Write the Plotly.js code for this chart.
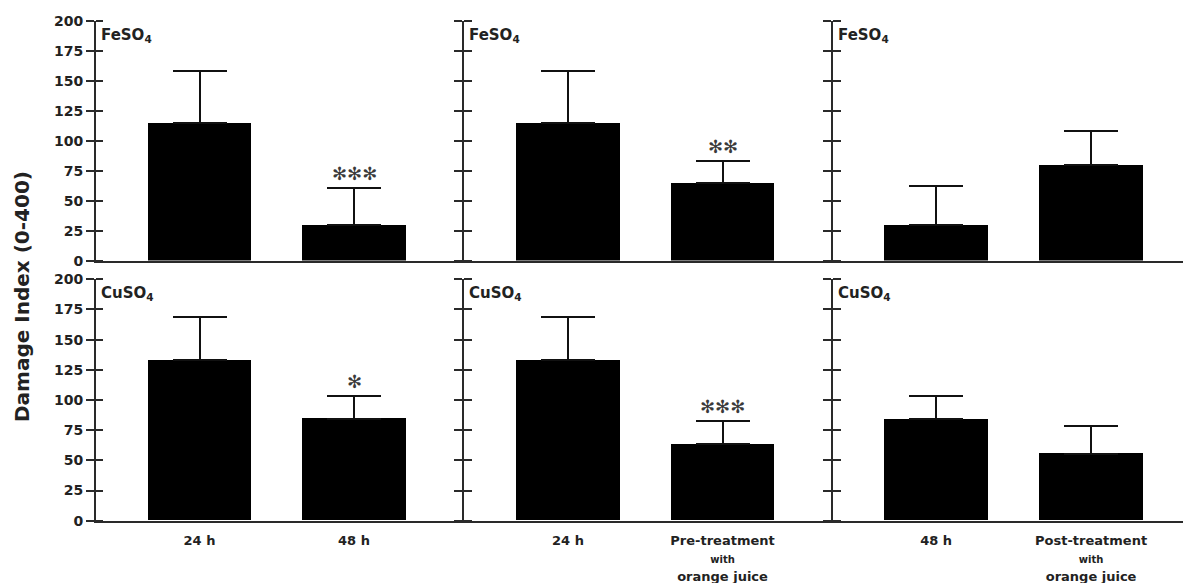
<!DOCTYPE html>
<html>
<head>
<meta charset="utf-8">
<script src="https://cdn.plot.ly/plotly-3.0.1.min.js"></script>
<style>html,body{margin:0;padding:0;background:#fff;}#chart{width:1183px;height:583px;}</style>
</head>
<body>
<div id="chart"></div>
<script>
// ---- data ----
const catsA = ['24 h', '48 h'];
const catsB = ['24 h', 'Pre-treatment'];
const catsC = ['48 h', 'Post-treatment'];
const tickLabelsA = ['<span style="font-size:13px">24 h</span>', '<span style="font-size:13px">48 h</span>'];
const tickLabelsB = ['<span style="font-size:13px">24 h</span>',
  '<span style="font-size:13px">Pre-treatment</span><br><span style="font-size:10px">with</span><br><span style="font-size:13px">orange juice</span>'];
const tickLabelsC = ['<span style="font-size:13px">48 h</span>',
  '<span style="font-size:13px">Post-treatment</span><br><span style="font-size:10px">with</span><br><span style="font-size:13px">orange juice</span>'];

const feMeansA = [115, 30];
const feErrA = [43, 31];
const feSigA = ['', '✻✻✻'];
const feMeansB = [115, 65];
const feErrB = [43, 18];
const feSigB = ['', '✻✻'];
const feMeansC = [30, 80];
const feErrC = [32, 28];
const feSigC = ['', ''];

const cuMeansA = [133, 84.5];
const cuErrA = [36, 19];
const cuSigA = ['', '✻'];
const cuMeansB = [133, 63.5];
const cuErrB = [36, 19.5];
const cuSigB = ['', '✻✻✻'];
const cuMeansC = [84, 55.5];
const cuErrC = [19, 23];
const cuSigC = ['', ''];

const yTickVals = [0, 25, 50, 75, 100, 125, 150, 175, 200];
const panelLabels = ['FeSO<sub>4</sub>', 'CuSO<sub>4</sub>'];
const yTitle = 'Damage Index (0-400)';

// ---- build ----
const W = 1183, H = 583;
const xDomains = [[96 / W, 462 / W], [464 / W, 831 / W], [833 / W, 1]];
const xRanges = [[-0.67, 1.699], [-0.673, 1.702], [-0.665, 1.593]];
const yDomains = [[(H - 260.6) / H, (H - 21) / H], [(H - 520.7) / H, (H - 279.3) / H]];

const panels = [
  {cats: catsA, m: feMeansA, e: feErrA, s: feSigA, row: 0, col: 0, ticks: tickLabelsA},
  {cats: catsB, m: feMeansB, e: feErrB, s: feSigB, row: 0, col: 1, ticks: tickLabelsB},
  {cats: catsC, m: feMeansC, e: feErrC, s: feSigC, row: 0, col: 2, ticks: tickLabelsC},
  {cats: catsA, m: cuMeansA, e: cuErrA, s: cuSigA, row: 1, col: 0, ticks: tickLabelsA},
  {cats: catsB, m: cuMeansB, e: cuErrB, s: cuSigB, row: 1, col: 1, ticks: tickLabelsB},
  {cats: catsC, m: cuMeansC, e: cuErrC, s: cuSigC, row: 1, col: 2, ticks: tickLabelsC}
];

const lineCol = '#2a2a2a';
const tickFont = {family: 'DejaVu Sans', size: 14, weight: 'bold', color: '#222'};
const data = [];
const layout = {
  width: W, height: H,
  margin: {l: 0, r: 0, t: 0, b: 0},
  paper_bgcolor: '#fff', plot_bgcolor: 'rgba(0,0,0,0)',
  showlegend: false,
  bargap: 0,
  annotations: [],
  font: {family: 'DejaVu Sans', color: '#222'}
};

panels.forEach((p, i) => {
  const n = i + 1;
  const xs = n === 1 ? 'x' : 'x' + n;
  const ys = n === 1 ? 'y' : 'y' + n;
  const xk = n === 1 ? 'xaxis' : 'xaxis' + n;
  const yk = n === 1 ? 'yaxis' : 'yaxis' + n;
  data.push({
    type: 'bar', x: p.cats, y: p.m, xaxis: xs, yaxis: ys,
    width: 0.667,
    marker: {color: '#000', line: {width: 0}},
    error_y: {type: 'data', array: p.e, symmetric: false, arrayminus: p.e.map(() => 0),
      color: '#111', thickness: 2, width: 27},
    hoverinfo: 'x+y'
  });
  layout[xk] = {
    domain: xDomains[p.col], anchor: ys, type: 'category',
    categoryorder: 'array', categoryarray: p.cats,
    range: xRanges[p.col],
    showline: true, linewidth: 2, linecolor: lineCol,
    ticks: '', showgrid: false, zeroline: false, fixedrange: true,
    showticklabels: p.row === 1,
    ticklabelstandoff: 5,
    tickmode: 'array', tickvals: p.cats, ticktext: p.ticks,
    tickfont: {family: 'DejaVu Sans', size: 14, weight: 'bold', color: '#222'}
  };
  // mirrored ticks on the right edge meet the next panel's axis -> crossing ticks
  layout[yk] = {
    domain: yDomains[p.row], anchor: xs, range: [0, 200],
    tickmode: 'array', tickvals: yTickVals,
    ticks: 'outside', ticklen: 8, tickwidth: 2, tickcolor: lineCol,
    showline: true, linewidth: 2, linecolor: lineCol,
    mirror: p.col < 2 ? 'ticks' : false,
    showgrid: false, zeroline: false, fixedrange: true,
    showticklabels: p.col === 0, tickfont: tickFont
  };

  // significance marks
  p.s.forEach((s, j) => {
    if (!s) return;
    layout.annotations.push({
      xref: xs, yref: ys, x: p.cats[j], y: p.m[j] + p.e[j],
      text: s, showarrow: false, yanchor: 'bottom', yshift: 2,
      font: {family: 'DejaVu Sans', size: 18, color: '#3a3a3a'}
    });
  });
  // panel label
  layout.annotations.push({
    xref: xs + ' domain', yref: ys + ' domain', x: 0, y: 1,
    xanchor: 'left', yanchor: 'top', xshift: 3, yshift: -3,
    text: panelLabels[p.row], showarrow: false,
    font: {family: 'DejaVu Sans', size: 15, weight: 'bold', color: '#222'}
  });
});

// hidden left strip whose mirrored ticks give the inner half of the first axis' ticks
[0, 1].forEach((row) => {
  const n = 7 + row;
  const xs = 'x' + n, ys = 'y' + n;
  const src = panels[row * 3];
  layout['xaxis' + n] = {domain: [0, 94 / W], anchor: ys, type: 'category',
    showline: false, showticklabels: false, ticks: '', showgrid: false, zeroline: false, fixedrange: true};
  layout['yaxis' + n] = {domain: yDomains[row], anchor: xs, range: [0, 200],
    tickmode: 'array', tickvals: yTickVals,
    ticks: 'outside', ticklen: 7, tickwidth: 2, tickcolor: lineCol,
    showline: true, linewidth: 2, linecolor: lineCol,
    mirror: 'ticks', showticklabels: false,
    showgrid: false, zeroline: false, fixedrange: true};
  data.push({type: 'bar', x: src.cats, y: src.m, xaxis: xs, yaxis: ys,
    opacity: 0, hoverinfo: 'skip', marker: {color: '#000'}});
});

layout.annotations.push({
  xref: 'paper', yref: 'paper', x: 22 / W, y: 1 - 297 / H,
  text: yTitle, textangle: -90, showarrow: false,
  xanchor: 'center', yanchor: 'middle',
  font: {family: 'DejaVu Sans', size: 20, weight: 'bold', color: '#222'}
});

Plotly.newPlot('chart', data, layout, {displayModeBar: false});
</script>
</body>
</html>
